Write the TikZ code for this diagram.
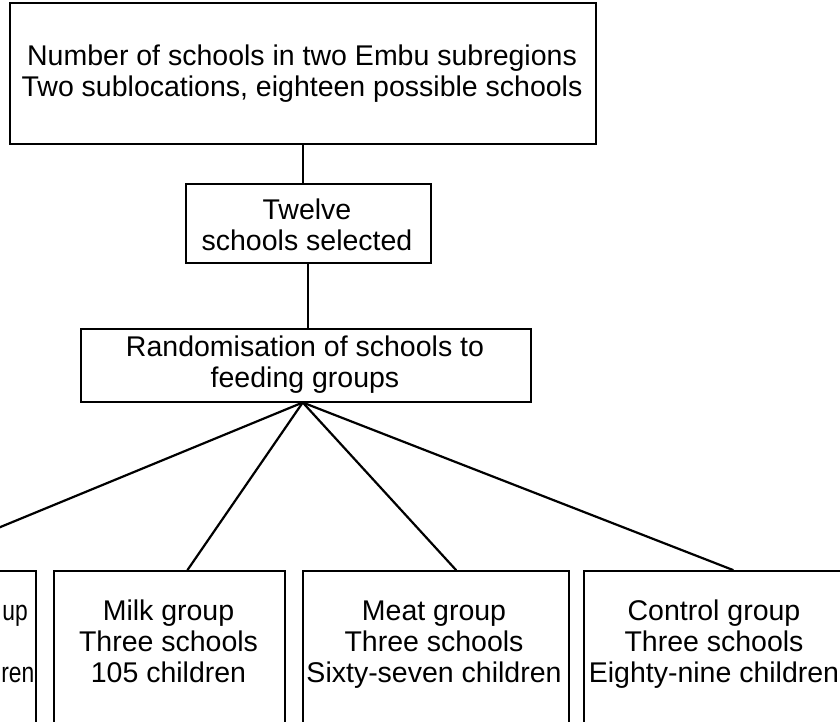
\documentclass[tikz,border=0pt]{standalone}
\usepackage{fontspec}
\setmainfont{Liberation Sans}
\begin{document}
\begin{tikzpicture}[x=1pt,y=-1pt,
  box/.style={draw=black,line width=1.5pt,inner sep=0pt},
  gbox/.style={draw=black,line width=2pt,inner sep=0pt,minimum height=250pt},
  txt/.style={font=\fontsize{28.5}{31}\selectfont,align=center,inner sep=0pt},
  link/.style={draw=black,line width=2.2pt,line cap=round}]
\useasboundingbox (0,0) rectangle (840,721);
\clip (0,0) rectangle (840,721);
% boxes
\node[box,anchor=north west,minimum width=586pt,minimum height=141pt] (top) at (9,2) {};
\node[box,anchor=north west,minimum width=245pt,minimum height=79pt] (twelve) at (185,183) {};
\node[box,anchor=north west,minimum width=450pt,minimum height=73pt] (random) at (80,328) {};
\node[gbox,anchor=north east,minimum width=280pt] (leftb) at (37,570) {};
\node[gbox,anchor=north west,minimum width=231pt] (milk) at (53,570) {};
\node[gbox,anchor=north west,minimum width=266pt] (meat) at (302,570) {};
\node[gbox,anchor=north west,minimum width=262pt] (control) at (583,570) {};
% texts
\node[txt] (toptxt) at (302,74.3) {\strut Number of schools in two Embu subregions\\\strut Two sublocations, eighteen possible schools};
\node[txt] (twelvetxt) at (307,228.8) {\strut Twelve\\\strut schools selected};
\node[txt] (randomtxt) at (305,365.3) {\strut Randomisation of schools to\\\strut feeding groups};
\node[txt,anchor=base east] (lefttxta) at (28,620) {\scalebox{0.8}[1]{up}};
\node[txt,anchor=base east] (lefttxtb) at (34.5,682) {\scalebox{0.8}[1]{ren}};
\node[txt] (milktxt) at (168.5,644.8) {\strut Milk group\\\strut Three schools\\\strut 105 children};
\node[txt] (meattxt) at (434,644.8) {\strut Meat group\\\strut Three schools\\\strut Sixty-seven children};
\node[txt] (controltxt) at (714,644.8) {\strut Control group\\\strut Three schools\\\strut Eighty-nine children};
% connectors
\draw[link] (top.south) -- (top.south |- twelve.north);
\draw[link] (twelve.south) -- (twelve.south |- random.north);
\coordinate (fan) at ([xshift=-3pt]random.south);
\draw[link] (fan) -- (leftb.north);
\draw[link] (fan) -- ([xshift=18pt]milk.north);
\draw[link] (fan) -- ([xshift=20pt]meat.north);
\draw[link] (fan) -- ([xshift=18pt]control.north);
\end{tikzpicture}
\end{document}
